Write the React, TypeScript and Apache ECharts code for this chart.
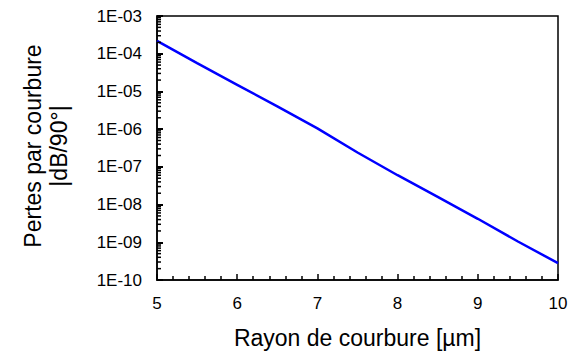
import React, { useEffect, useRef } from "react";
import * as echarts from "echarts";

const radius = [5, 5.5, 6, 6.5, 7, 7.5, 8, 8.5, 9, 9.5, 10];
const losses = [2.2e-4, 5.6e-5, 1.5e-5, 4.0e-6, 1.05e-6, 2.4e-7, 6.0e-8, 1.6e-8, 4.2e-9, 1.05e-9, 2.8e-10];
const yDecades = [-10, -9, -8, -7, -6, -5, -4];
const minorMultipliers = [2, 3, 4, 5, 6, 7, 8, 9];
const xTitle = "Rayon de courbure [µm]";
const yTitleLines = ["Pertes par courbure", "|dB/90°|"];

const FONT = "'Liberation Sans', Arial, sans-serif";

export default function App() {
  const ref = useRef<HTMLDivElement>(null);
  useEffect(() => {
    document.body.style.margin = "0";
    const chart = echarts.init(ref.current!, null, { renderer: "svg" });
    const minorData: number[][] = [];
    yDecades.forEach((d) => {
      minorMultipliers.forEach((m) => {
        minorData.push([radius[0], m * Math.pow(10, d)]);
      });
    });
    const fmtY = (v: number) => {
      const e = Math.round(Math.log10(v));
      return "1E" + (e < 0 ? "-" : "+") + String(Math.abs(e)).padStart(2, "0");
    };
    chart.setOption({
      animation: false,
      grid: {
        left: 157,
        right: 13,
        top: 16,
        bottom: 73,
        show: true,
        borderColor: "#000",
        borderWidth: 1.5,
        backgroundColor: "transparent",
      },
      xAxis: {
        type: "value",
        min: 5,
        max: 10,
        interval: 1,
        axisLine: { show: true, onZero: false, lineStyle: { color: "#000", width: 1.5 } },
        axisTick: { show: true, inside: true, length: 6, lineStyle: { color: "#000", width: 1.5 } },
        minorTick: { show: true, splitNumber: 5, length: 4, lineStyle: { color: "#000", width: 1.5 } },
        splitLine: { show: false },
        axisLabel: { color: "#000", fontSize: 17, fontFamily: FONT, margin: 15 },
        name: xTitle,
        nameLocation: "middle",
        nameGap: 46,
        nameTextStyle: { color: "#000", fontSize: 23, fontFamily: FONT },
      },
      yAxis: {
        type: "log",
        logBase: 10,
        min: 1e-10,
        max: 1e-3,
        splitNumber: 7,
        axisLine: { show: true, lineStyle: { color: "#000", width: 1.5 } },
        axisTick: { show: true, inside: true, length: 6, lineStyle: { color: "#000", width: 2 } },
        splitLine: { show: false },
        axisLabel: { color: "#000", fontSize: 17, fontFamily: FONT, margin: 15, formatter: fmtY },
      },
      graphic: [
        {
          type: "text",
          x: 33,
          y: 146,
          rotation: Math.PI / 2,
          style: {
            text: yTitleLines[0],
            fill: "#000",
            font: `23px ${FONT}`,
            textAlign: "center",
            textVerticalAlign: "middle",
          },
        },
        {
          type: "text",
          x: 59,
          y: 146,
          rotation: Math.PI / 2,
          style: {
            text: yTitleLines[1],
            fill: "#000",
            font: `23px ${FONT}`,
            textAlign: "center",
            textVerticalAlign: "middle",
          },
        },
      ],
      series: [
        {
          type: "custom",
          silent: true,
          clip: false,
          z: 5,
          data: minorData,
          renderItem: (params: any, api: any) => {
            const p = api.coord([api.value(0), api.value(1)]);
            return {
              type: "line",
              shape: { x1: p[0], y1: p[1], x2: p[0] + 4, y2: p[1] },
              style: { stroke: "#000", lineWidth: 1.5 },
            };
          },
        },
        {
          type: "line",
          data: radius.map((x, i) => [x, losses[i]]),
          showSymbol: false,
          symbol: "none",
          lineStyle: { color: "#0000ff", width: 2.5 },
        },
      ],
    });
    return () => chart.dispose();
  }, []);
  return <div ref={ref} style={{ width: 571, height: 354 }} />;
}
